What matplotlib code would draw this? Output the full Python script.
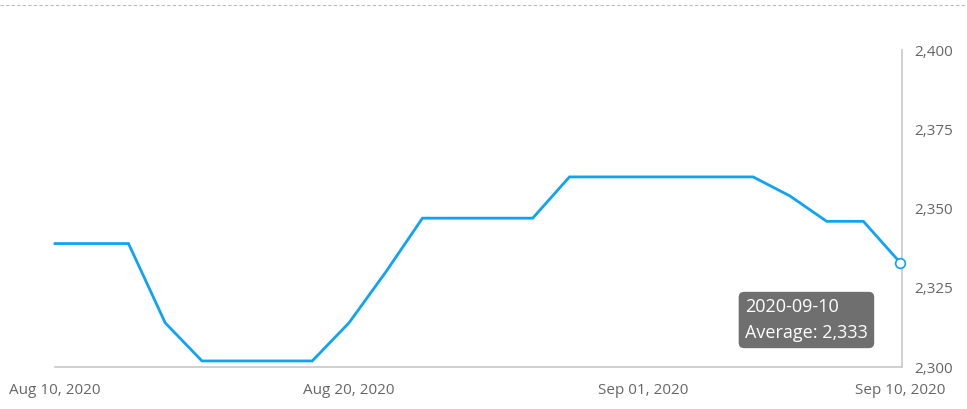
import matplotlib
matplotlib.use("Agg")
import matplotlib.pyplot as plt
from matplotlib.lines import Line2D

plt.rcParams['font.family'] = ['Open Sans', 'DejaVu Sans']

# trading days Aug 10 - Sep 10, 2020
dates = ['2020-08-10', '2020-08-11', '2020-08-12', '2020-08-13', '2020-08-14',
         '2020-08-17', '2020-08-18', '2020-08-19', '2020-08-20', '2020-08-21',
         '2020-08-24', '2020-08-25', '2020-08-26', '2020-08-27', '2020-08-28',
         '2020-08-31', '2020-09-01', '2020-09-02', '2020-09-03', '2020-09-04',
         '2020-09-07', '2020-09-08', '2020-09-09', '2020-09-10']
average = [2339, 2339, 2339, 2314, 2302,
           2302, 2302, 2302, 2314, 2330,
           2347, 2347, 2347, 2347, 2360,
           2360, 2360, 2360, 2360, 2360,
           2354, 2346, 2346, 2333]
tick_idx = [0, 8, 16, 23]
tick_labels = ['Aug 10, 2020', 'Aug 20, 2020', 'Sep 01, 2020', 'Sep 10, 2020']
y_ticks = [2300, 2325, 2350, 2375, 2400]

line_color = '#0fa3f5'
text_color = '#666666'
axis_color = '#c8c8c8'

fig = plt.figure(figsize=(9.67, 4.09), dpi=100)
ax = fig.add_axes([55 / 967, 41.7 / 409, 847 / 967, 317.3 / 409])

x = list(range(len(dates)))
ax.plot(x, average, color=line_color, linewidth=2, solid_joinstyle='miter', clip_on=False)
ax.plot(x[-1], average[-1], 'o', markersize=7, markerfacecolor='white',
        markeredgecolor=line_color, markeredgewidth=1.2, clip_on=False, zorder=5)

ax.set_xlim(0, 23.05)
ax.set_ylim(2300, 2400)

for s in ['top', 'left']:
    ax.spines[s].set_visible(False)
ax.spines['bottom'].set_color(axis_color)
ax.spines['right'].set_color(axis_color)
ax.spines['bottom'].set_linewidth(1.2)
ax.spines['right'].set_linewidth(1.2)

ax.set_xticks(tick_idx)
ax.set_xticklabels(tick_labels)
ax.yaxis.tick_right()
ax.set_yticks(y_ticks)
ax.set_yticklabels([f'{v:,}' for v in y_ticks])
ax.tick_params(axis='both', length=0, labelsize=11, colors=text_color)
ax.tick_params(axis='x', pad=11)
ax.tick_params(axis='y', pad=9)

# dashed line across the top
fig.add_artist(Line2D([0, 1], [1 - 5 / 409, 1 - 5 / 409], transform=fig.transFigure,
                      color='#bbbbbb', linewidth=0.8, linestyle=(0, (3, 2))))

# tooltip
fig.text(745 / 967, 1 - 320 / 409, f'{dates[-1]}\nAverage: {average[-1]:,}',
         color='white', fontsize=13, va='center', ha='left', linespacing=1.55,
         bbox=dict(boxstyle='round,pad=0.35,rounding_size=0.3',
                   facecolor='#6f6f6f', edgecolor='none'))

fig.savefig('out.png', dpi=100)
